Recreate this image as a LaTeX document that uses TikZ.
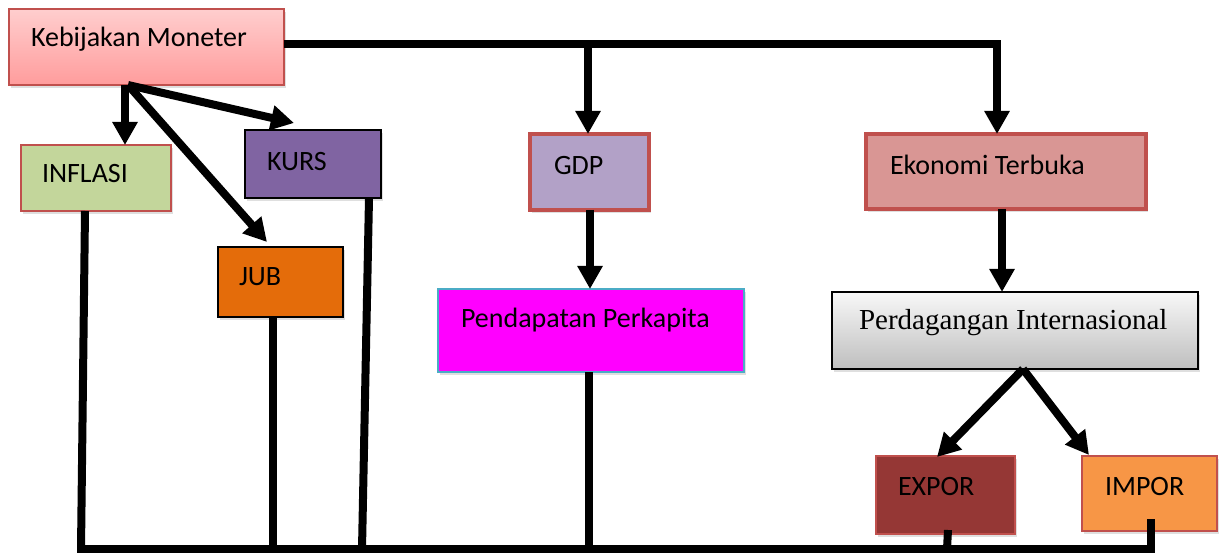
\documentclass[tikz,border=0pt]{standalone}
\usepackage{fontspec}
\setmainfont{Carlito}
\newfontfamily\timesfont{Liberation Serif}
\usetikzlibrary{arrows.meta,shadows,calc}
\definecolor{redbd}{RGB}{192,80,77}
\definecolor{kmtop}{RGB}{255,206,206}
\definecolor{kmbot}{RGB}{255,156,156}
\definecolor{inffill}{RGB}{195,214,155}
\definecolor{kursfill}{RGB}{128,100,162}
\definecolor{jubfill}{RGB}{228,108,10}
\definecolor{gdpfill}{RGB}{178,161,199}
\definecolor{ppfill}{RGB}{255,0,255}
\definecolor{ppbd}{RGB}{75,172,198}
\definecolor{etfill}{RGB}{217,150,148}
\definecolor{pitop}{RGB}{248,248,248}
\definecolor{pibot}{RGB}{190,190,190}
\definecolor{exfill}{RGB}{149,55,53}
\definecolor{imfill}{RGB}{247,150,70}
\tikzset{
  box/.style={rectangle, inner sep=0pt, outer sep=0pt, line width=2pt,
    drop shadow={opacity=0.25, shadow xshift=2pt, shadow yshift=-3pt}},
  txt/.style={inner sep=0pt, outer sep=0pt, anchor=base west, font=\fontsize{28}{32}\selectfont},
  conn/.style={line width=8pt, line join=miter, black},
  arrow/.style={conn, -{Triangle[width=24pt,length=23pt]}}
}
\begin{document}
\begin{tikzpicture}[x=1pt,y=-1pt]
\useasboundingbox (0,0) rectangle (1223,553);
% boxes
\node[box, draw=redbd, top color=kmtop, bottom color=kmbot, minimum width=275pt, minimum height=76pt] (km) at (146.5,47) {};
\node[box, draw=redbd, fill=inffill, minimum width=150pt, minimum height=66pt] (inf) at (96,178) {};
\node[box, draw=black, fill=kursfill, minimum width=136pt, minimum height=68pt] (kurs) at (313,164) {};
\node[box, draw=black, fill=jubfill, minimum width=125pt, minimum height=70pt] (jub) at (280.5,282) {};
\node[box, draw=redbd, fill=gdpfill, line width=4pt, minimum width=119pt, minimum height=76pt] (gdp) at (589.5,172) {};
\node[box, draw=ppbd, fill=ppfill, minimum width=306pt, minimum height=83pt] (pp) at (591,330.5) {};
\node[box, draw=redbd, fill=etfill, line width=4pt, minimum width=280pt, minimum height=75pt] (et) at (1006,171.5) {};
\node[box, draw=black, top color=pitop, bottom color=pibot, minimum width=366pt, minimum height=77pt] (pi) at (1015,330.5) {};
\node[box, draw=redbd, fill=exfill, minimum width=139pt, minimum height=78pt] (ex) at (945.5,495) {};
\node[box, draw=redbd, fill=imfill, minimum width=135pt, minimum height=75pt] (im) at (1149.5,493.5) {};
% texts
\node[txt] (kmt) at (31,47) {Kebijakan Moneter};
\node[txt] (inft) at (42,183) {INFLASI};
\node[txt] (kurst) at (267,171) {KURS};
\node[txt] (jubt) at (239,286) {JUB};
\node[txt] (gdpt) at (554,175) {GDP};
\node[txt] (ppt) at (461,327) {Pendapatan Perkapita};
\node[txt] (ett) at (890,175) {Ekonomi Terbuka};
\node[txt, font=\timesfont\fontsize{29}{33}\selectfont] (pit) at (859,329) {Perdagangan Internasional};
\node[txt] (ext) at (898,495) {EXPOR};
\node[txt] (imt) at (1105,495) {IMPOR};
% coordinates
\coordinate (tr) at (997,44);
\coordinate (tg) at (588,44);
\coordinate (bInf) at (81,549);
\coordinate (bJub) at (273,549);
\coordinate (bKurs) at (362,549);
\coordinate (bPp) at (589,549);
\coordinate (bEx) at (947,549);
\coordinate (bIm) at (1151,549);
\coordinate (bL) at (77,549);
\coordinate (bR) at (1155,549);
% connectors from Kebijakan Moneter
\draw[arrow] ([xshift=-21.5pt]km.south) -- ([xshift=29pt]inf.north);
\draw[arrow] ([xshift=-18.5pt]km.south) -- ([xshift=-19pt,yshift=7pt]kurs.north);
\draw[arrow] ([xshift=-18.5pt]km.south) -- ([xshift=-13.5pt,yshift=5pt]jub.north);
\draw[arrow] ([yshift=3pt]km.east) -- (tr) -- (tr |- et.north);
\draw[arrow] (tg) -- (tg |- gdp.north);
\draw[arrow] ([xshift=0.5pt]gdp.south) -- ([xshift=-1pt]pp.north);
\draw[arrow] ([xshift=-4pt]et.south) -- ([xshift=-13pt]pi.north);
\draw[arrow] ([xshift=8pt]pi.south) -- ([xshift=-8.5pt,yshift=-1pt]ex.north);
\draw[arrow] ([xshift=8pt]pi.south) -- ([xshift=-60.5pt,yshift=1pt]im.north);
% lines to the bottom
\draw[conn] ([xshift=-11pt]inf.south) -- (bInf);
\draw[conn] ([xshift=-7.5pt]jub.south) -- (bJub);
\draw[conn] ([xshift=56pt]kurs.south) -- (bKurs);
\draw[conn] ([xshift=-2pt]pp.south) -- (bPp);
\draw[conn] ([xshift=2.5pt,yshift=4pt]ex.south) -- (bEx);
\draw[conn] ([xshift=1.5pt,yshift=12pt]im.south) -- (bIm);
\draw[conn] (bL) -- (bR);
\end{tikzpicture}
\end{document}
